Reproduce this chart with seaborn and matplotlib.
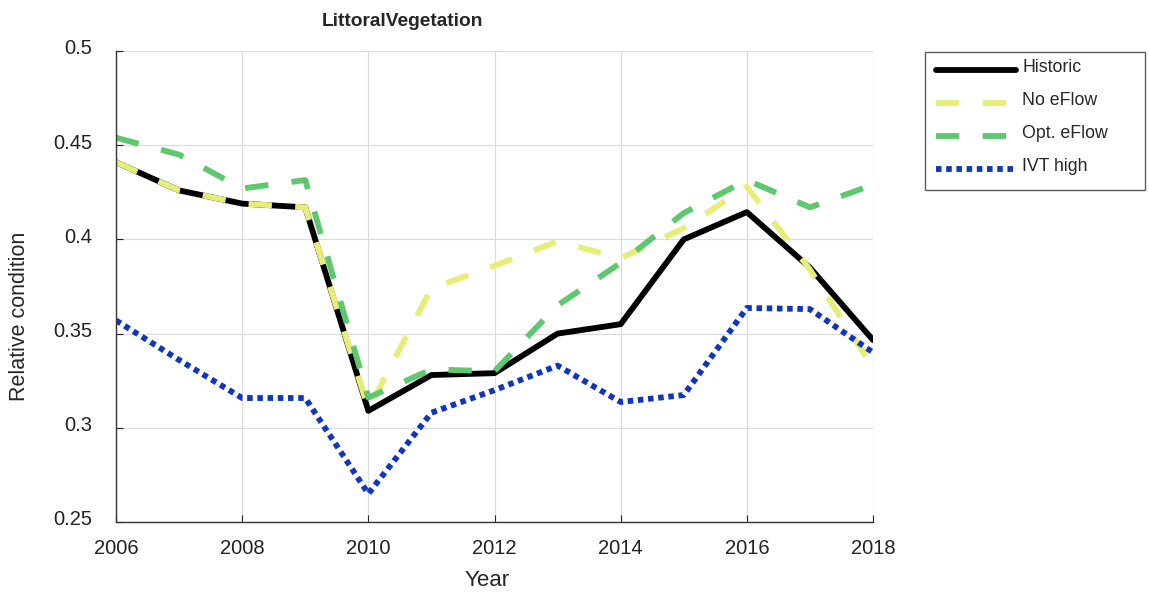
import numpy as np
import pandas as pd
import matplotlib
matplotlib.use('Agg')
import matplotlib.pyplot as plt
import matplotlib.transforms as mtransforms
import seaborn as sns

years = list(range(2006, 2019))
historic = [0.441, 0.426, 0.419, 0.417, 0.309, 0.328, 0.329, 0.350, 0.355, 0.400, 0.4145, 0.385, 0.3466]
no_eflow = [0.441, 0.426, 0.419, 0.417, 0.310, 0.374, 0.386, 0.399, 0.390, 0.406, 0.428, 0.384, 0.332]
opt_eflow = [0.454, 0.445, 0.427, 0.4315, 0.316, 0.331, 0.330, 0.365, 0.3875, 0.414, 0.4315, 0.417, 0.429]
ivt_high = [0.357, 0.336, 0.3158, 0.3158, 0.265, 0.308, 0.320, 0.333, 0.3137, 0.3174, 0.3636, 0.363, 0.340]

series_names = ['Historic', 'No eFlow', 'Opt. eFlow', 'IVT high']
series_values = [historic, no_eflow, opt_eflow, ivt_high]
colors = ['#000000', '#e6ee78', '#5ec86e', '#1036bf']

sns.set_style('white')
plt.rcParams['font.family'] = ['Liberation Sans', 'DejaVu Sans']

W, H = 1149, 596
fig = plt.figure(figsize=(W / 100, H / 100), dpi=100)
# axes box in pixels: x 116..873, y 51..522
ax = fig.add_axes([116 / W, 1 - 522 / H, (873 - 116) / W, (522 - 51) / H])

styles = [
    dict(lw=4.2, linestyle='-'),
    dict(lw=4.2, linestyle=(0, (4.0, 4.0))),
    dict(lw=4.2, linestyle=(0, (4.0, 4.0))),
    dict(lw=4.2, linestyle=(0, (0.95, 0.8))),
]

for name, vals, c, st in zip(series_names, series_values, colors, styles):
    df = pd.DataFrame({'Year': years, 'value': vals})
    sns.lineplot(data=df, x='Year', y='value', ax=ax, color=c, label=name,
                 solid_joinstyle='round', dash_capstyle='butt', **st)

ax.set_xlim(2006, 2018)
ax.set_ylim(0.25, 0.5)
ax.set_xticks(range(2006, 2019, 2))
yt = np.arange(0.25, 0.501, 0.05)
ax.set_yticks(yt)
ax.set_yticklabels(['%g' % round(v, 2) for v in yt])
ax.grid(True, color='#dcdcdc', lw=0.9)
ax.set_axisbelow(True)
for s in ['top', 'right']:
    ax.spines[s].set_visible(False)
for s in ['left', 'bottom']:
    ax.spines[s].set_color('#333333')
    ax.spines[s].set_linewidth(1.0)
ax.tick_params(direction='in', length=5, labelsize=14.5, colors='#222222',
               left=True, bottom=True)
ax.tick_params(axis='y', pad=17)
ax.tick_params(axis='x', pad=12)

# y tick labels sit a little above their ticks in the original
shift = mtransforms.ScaledTranslation(0, 3 / 72, fig.dpi_scale_trans)
for lab in ax.get_yticklabels():
    lab.set_transform(lab.get_transform() + shift)

ax.set_xlabel('Year', fontsize=16)
ax.set_ylabel('Relative condition', fontsize=15.5)
ax.xaxis.set_label_coords(0.490, -0.102)
ax.yaxis.set_label_coords(-0.1136, 0.437)
ax.set_title('LittoralVegetation', fontsize=13.8, fontweight='bold',
             x=0.379, pad=18)

leg = ax.legend(loc='upper left',
                bbox_to_anchor=(925 / W, 1 - 189 / H, 220 / W, 137 / H),
                bbox_transform=fig.transFigure, mode='expand', frameon=True,
                fancybox=False, edgecolor='#333333', fontsize=12.8,
                handlelength=4.5, handletextpad=0.35, labelspacing=0.9,
                borderpad=0.62, borderaxespad=0)
leg.get_frame().set_linewidth(1.0)
for t in leg.get_texts():
    t.set_va('bottom')

fig.savefig('out.png', dpi=100)
